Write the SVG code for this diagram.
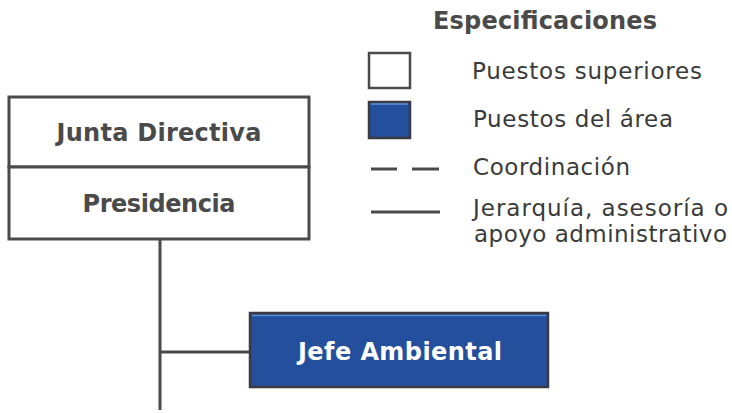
<svg xmlns="http://www.w3.org/2000/svg" width="732" height="413" viewBox="0 0 732 413">
<style>
.box{fill:#fff;stroke:#4a4a4a;stroke-width:3}
.blue{fill:#234f9c;stroke:#3a3a40;stroke-width:2.5}
.hl{stroke:#5b8fd6;stroke-width:1.5}
.ttl{font-family:"DejaVu Sans",Verdana,sans-serif;font-weight:bold;font-size:24px;fill:#4a4a4a}
.wt{font-family:"DejaVu Sans",Verdana,sans-serif;font-weight:bold;font-size:24px;fill:#fff}
.lg{font-family:"DejaVu Sans",Verdana,sans-serif;font-size:23px;fill:#3a3a3a}
.ln{stroke:#4a4a4a;stroke-width:3;fill:none}
</style>
<rect width="732" height="413" fill="#fff"/>
<g id="connectors">
<line class="ln" x1="160" y1="240" x2="160" y2="410"/>
<line class="ln" x1="160" y1="352" x2="250" y2="352"/>
</g>
<g id="junta">
<rect class="box" x="9" y="97" width="300" height="70"/>
<text class="ttl" x="159" y="141" text-anchor="middle" textLength="205" lengthAdjust="spacing">Junta Directiva</text>
</g>
<g id="presidencia">
<rect class="box" x="9" y="167" width="300" height="72"/>
<text class="ttl" x="159" y="212" text-anchor="middle" textLength="153" lengthAdjust="spacing">Presidencia</text>
</g>
<g id="jefe">
<rect class="blue" x="250" y="313" width="298" height="74"/>
<line class="hl" x1="252" y1="315.5" x2="546" y2="315.5"/>
<text class="wt" x="400" y="360" text-anchor="middle" textLength="204" lengthAdjust="spacing">Jefe Ambiental</text>
</g>
<g id="legend">
<text class="ttl" x="545" y="29" text-anchor="middle" textLength="224" lengthAdjust="spacing">Especificaciones</text>
<rect class="box" x="369" y="53" width="41" height="35" style="stroke-width:2.5"/>
<text class="lg" x="472" y="79" textLength="230" lengthAdjust="spacing">Puestos superiores</text>
<rect class="blue" x="369" y="102" width="41" height="36"/>
<line class="hl" x1="371" y1="104" x2="408" y2="104"/>
<text class="lg" x="473" y="127" textLength="200" lengthAdjust="spacing">Puestos del área</text>
<line class="ln" x1="371" y1="169" x2="397" y2="169"/>
<line class="ln" x1="412" y1="169" x2="439" y2="169"/>
<text class="lg" x="473" y="175" textLength="157" lengthAdjust="spacing">Coordinación</text>
<line class="ln" x1="371" y1="212" x2="440" y2="212"/>
<text class="lg" x="473" y="216" textLength="255" lengthAdjust="spacing">Jerarquía, asesoría o</text>
<text class="lg" x="474" y="242" textLength="253" lengthAdjust="spacing">apoyo administrativo</text>
</g>
</svg>
